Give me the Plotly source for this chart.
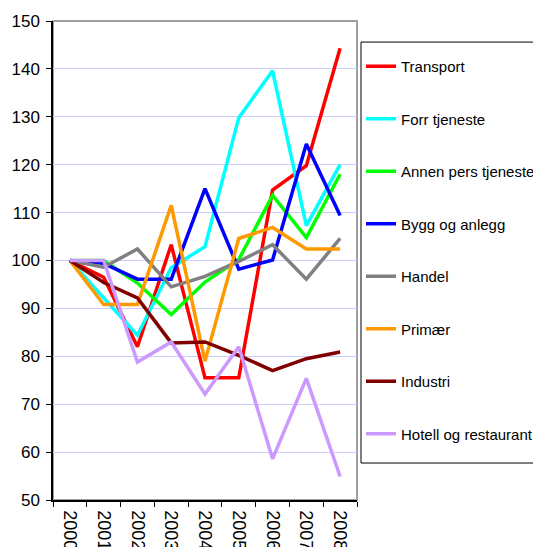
import plotly.graph_objects as go

years = ['2000', '2001', '2002', '2003', '2004', '2005', '2006', '2007', '2008']

transport = [100, 96.5, 82.0, 103.3, 75.5, 75.5, 114.7, 119.8, 144.3]
forr_tjeneste = [100, 92.3, 84.4, 98.5, 102.9, 129.8, 139.6, 107.3, 120.0]
annen_pers = [100, 100.0, 95.3, 88.7, 95.5, 100.2, 113.6, 104.8, 118.0]
bygg = [100, 99.4, 96.1, 96.1, 115.0, 98.2, 100.1, 124.3, 109.4]
handel = [100, 98.6, 102.4, 94.5, 96.7, 99.8, 103.3, 96.1, 104.6]
primaer = [100, 90.8, 90.8, 111.5, 79.0, 104.6, 106.9, 102.4, 102.4]
industri = [100, 95.4, 92.2, 82.8, 83.0, 80.2, 77.0, 79.5, 80.9]
hotell = [100, 100.0, 78.8, 83.0, 72.1, 82.0, 58.6, 75.4, 54.9]

series = [
    ('Transport', transport, '#FF0000'),
    ('Forr tjeneste', forr_tjeneste, '#00FFFF'),
    ('Annen pers tjeneste', annen_pers, '#00FF00'),
    ('Bygg og anlegg', bygg, '#0000FF'),
    ('Handel', handel, '#808080'),
    ('Primær', primaer, '#FF9900'),
    ('Industri', industri, '#800000'),
    ('Hotell og restaurant', hotell, '#CC99FF'),
]

FONT = 'Liberation Sans, Arial, sans-serif'

fig = go.Figure()
for name, vals, color in series:
    fig.add_trace(go.Scatter(
        x=years, y=vals, name=name, mode='lines',
        line=dict(color=color, width=3.5),
        legendgroup=name,
    ))

# grey frame round the plot area, as in Excel
fig.add_shape(type='rect', xref='paper', yref='paper', x0=0, x1=1, y0=0, y1=1,
              line=dict(color='#A0A0A0', width=2), layer='below')
# legend box (runs past the right edge, like the original)
fig.add_shape(type='rect', xref='paper', yref='paper', x0=1.0132, x1=1.7, y0=0.0772, y1=0.956,
              line=dict(color='black', width=1), fillcolor='white', layer='below')

# page body adds 8px, so margins are shifted to match
fig.update_layout(
    width=541, height=547,
    margin=dict(l=45, r=192, t=13, b=55, autoexpand=False),
    paper_bgcolor='white', plot_bgcolor='white',
    font=dict(family=FONT, color='black'),
    showlegend=True,
    legend=dict(
        x=1.0132, y=0.9395, xanchor='left', yanchor='top',
        borderwidth=0, bgcolor='rgba(0,0,0,0)',
        font=dict(size=15, family=FONT),
        tracegroupgap=30, itemwidth=30,
        traceorder='grouped',
    ),
)

fig.update_xaxes(
    type='category', range=[-0.5, 8.5],
    showline=True, linecolor='black', linewidth=1.5,
    ticks='outside', ticklen=5, tickcolor='black', tickson='boundaries',
    tickangle=90, tickfont=dict(size=18, family=FONT), ticklabelstandoff=5,
    showgrid=False, zeroline=False,
)
fig.update_yaxes(
    range=[50, 150], dtick=10,
    showline=True, linecolor='black', linewidth=1.5,
    ticks='outside', ticklen=5, tickcolor='black',
    tickfont=dict(size=17, family=FONT), ticklabelstandoff=3,
    showgrid=True, gridcolor='#CCCCFF', gridwidth=1, zeroline=False,
)

fig.write_html('out.html')
